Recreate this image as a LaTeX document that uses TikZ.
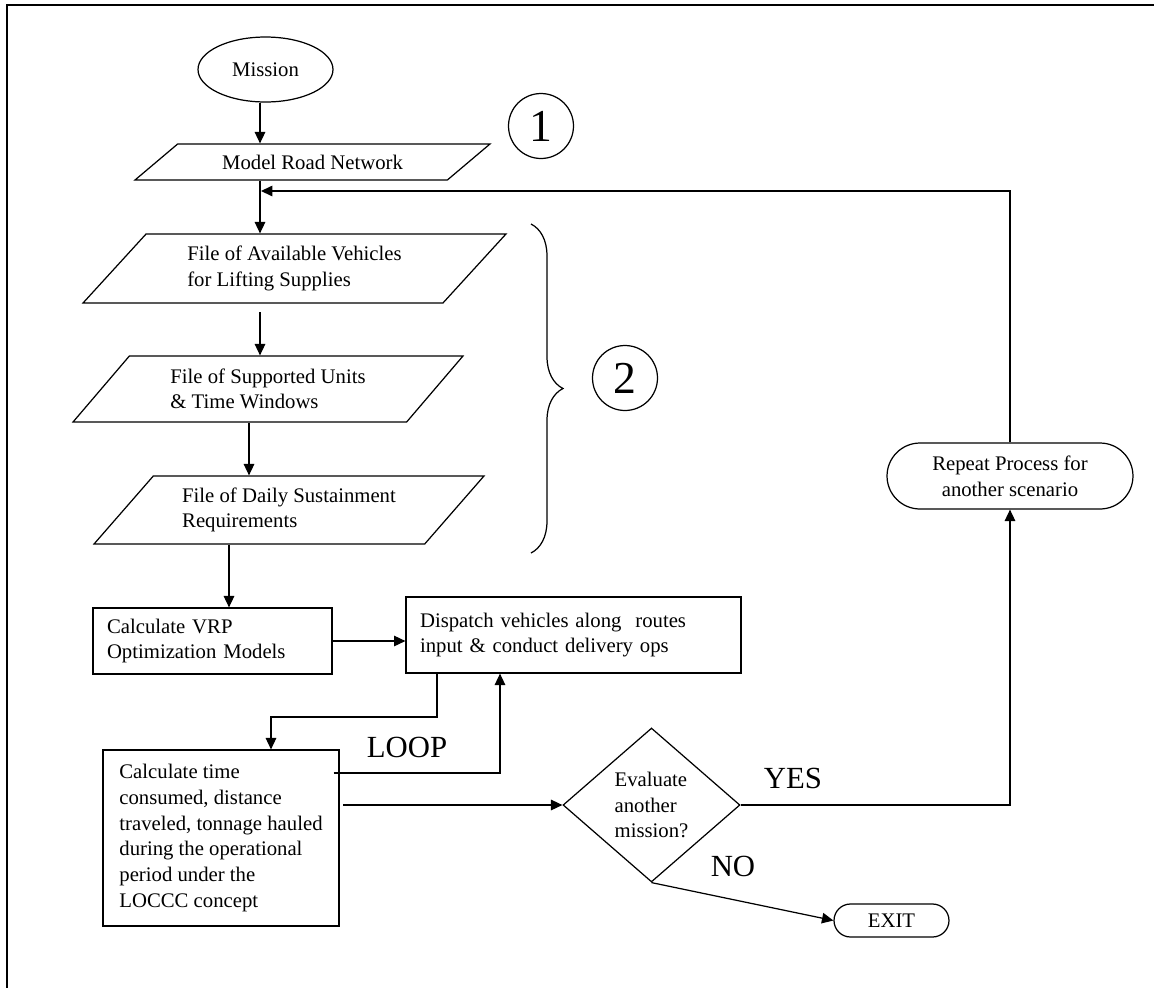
\documentclass[tikz,border=0pt]{standalone}
\usepackage{fontspec}
\setmainfont{Liberation Serif}
\usetikzlibrary{shapes, arrows.meta, calc, positioning, decorations.pathreplacing}
\tikzset{
    arr/.style = {-{Triangle[length=6.5pt,width=6pt]}}, % filled heads as in the chart
    para/.style = {trapezium, draw, trapezium stretches body=true, inner sep=2pt, align=left},
    box/.style = {rectangle, draw, inner sep=0pt, align=left},
    term/.style = {rounded rectangle, draw, inner sep=0pt, align=center},
    bigtxt/.style = {font=\fontsize{17.5}{20}\selectfont, inner sep=0pt},
    num/.style = {circle, draw, minimum size=1.3cm, inner sep=0pt, font=\fontsize{26}{28}\selectfont}
}

\begin{document}
\begin{tikzpicture}
            [x=0.02cm, y=-0.02cm, line width=0.7pt,
            every node/.style={font=\fontsize{11.8}{14.6}\selectfont}]
    \useasboundingbox (0,0) rectangle (1154,988);
    \draw [line width=1.4pt] (7,988) -- (7,5) -- (1154,5);

    % input side
    \node [ellipse, draw, minimum width=2.7cm, minimum height=1.3cm, inner sep=0pt] (mission) at (265.5,69.5) {Mission};
    \node [para, trapezium left angle=26.9, trapezium right angle=153.1, minimum width=7.1cm, minimum height=0.72cm] (mrn) at (312.5,162) {Model Road Network};
    \node [para, trapezium left angle=39.4, trapezium right angle=140.6, minimum width=8.46cm, minimum height=1.38cm] (fav) at (294.5,268.5) {File of Available Vehicles\\for Lifting Supplies};
    \node [para, trapezium left angle=40.2, trapezium right angle=139.8, minimum width=7.8cm, minimum height=1.32cm] (su) at (268,389) {File of Supported Units\\\& Time Windows};
    \node [para, trapezium left angle=41.1, trapezium right angle=138.9, minimum width=7.8cm, minimum height=1.36cm] (dsr) at (289,510) {File of Daily Sustainment\\Requirements};

    \node [num] (one) at (541,126) {1};
    \node [num] (two) at (625,378) {2};
    \draw [decorate, decoration={brace, amplitude=0.64cm}] (531,224) -- (531,553);

    % process side
    \node [box, minimum width=4.78cm, minimum height=1.32cm, text width=4.22cm] (vrp) at (212.5,641) {Calculate VRP\\Optimization Models};
    \node [box, minimum width=6.7cm, minimum height=1.52cm, text width=6.14cm] (dispatch) at (573.5,635) {Dispatch vehicles along\ \ routes\\input \& conduct delivery ops};
    \node [box, minimum width=4.72cm, minimum height=3.52cm] (calc) at (221,838) {Calculate time\\consumed, distance\\traveled, tonnage hauled\\during the operational\\period under the\\LOCCC concept};
    \node [diamond, draw, minimum width=3.54cm, minimum height=3.08cm, inner sep=0pt, align=left] (eval) at (651.5,805) {Evaluate\\another\\mission?};
    \node [term, minimum width=4.92cm, minimum height=1.32cm] (repeat) at (1010,476) {Repeat Process for\\another scenario};
    \node [term, minimum width=2.3cm, minimum height=0.66cm] (exit) at (891.5,920.5) {EXIT};

    \node [bigtxt] (loop) at (407,747) {LOOP};
    \node [bigtxt] (yes) at (793,778) {YES};
    \node [bigtxt] (no) at (733,866) {NO};

    \coordinate (colA) at (260,0);
    \coordinate (colB) at (249,0);
    \coordinate (colC) at (229,0);
    \coordinate (ret) at (261,191);
    \coordinate (d1) at (437,717);
    \coordinate (d2) at (271,717);
    \coordinate (l1) at (500,773);

    \draw [arr] (mission.south -| colA) -- (mrn.north -| colA);
    \draw [arr] (mrn.south -| colA) -- (fav.north -| colA);
    \draw [arr, shorten <=5pt] (fav.south -| colA) -- (su.north -| colA);
    \draw [arr] (su.south -| colB) -- (dsr.north -| colB);
    \draw [arr] (dsr.south -| colC) -- (vrp.north -| colC);
    \draw [arr] (vrp.east) -- (dispatch.west |- vrp.east);
    \draw [arr] (dispatch.south -| d1) -- (d1) -- (d2) -- (calc.north -| d2);
    \draw [arr, shorten <=-3.4pt] (calc.east |- l1) -- (l1) -- (dispatch.south -| l1);
    \draw [arr, shorten <=2pt] (calc.east |- eval.west) -- (eval.west);
    \draw [arr] (eval.east) -| (repeat.south);
    \draw [arr] (repeat.north) |- (ret);
    \draw [arr] (eval.south) -- (exit.west);
\end{tikzpicture}
\end{document}
